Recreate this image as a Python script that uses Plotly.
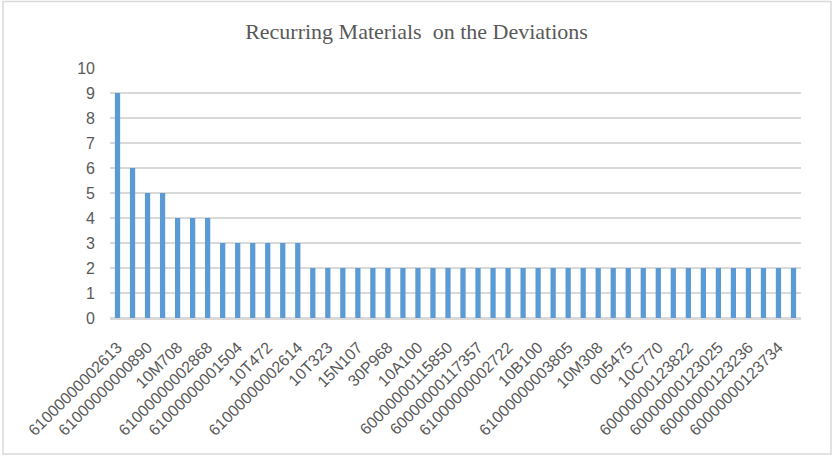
import plotly.graph_objects as go

# Bar counts (46 materials, sorted descending)
counts = [9, 6, 5, 5, 4, 4, 4, 3, 3, 3, 3, 3, 3,
          2, 2, 2, 2, 2, 2, 2, 2, 2, 2, 2, 2, 2, 2, 2, 2, 2,
          2, 2, 2, 2, 2, 2, 2, 2, 2, 2, 2, 2, 2, 2, 2, 2]

# Visible tick labels (every other bar)
tick_labels = ["61000000002613", "61000000000890", "10M708", "61000000002868",
               "61000000001504", "10T472", "61000000002614", "10T323", "15N107",
               "30P968", "10A100", "60000000115850", "60000000117357",
               "61000000002722", "10B100", "61000000003805", "10M308", "005475",
               "10C770", "60000000123822", "60000000123025", "60000000123236",
               "60000000123734"]

positions = list(range(len(counts)))
tick_positions = positions[::2][:len(tick_labels)]

fig = go.Figure(go.Bar(x=positions, y=counts, marker_color="#5B9BD5",
                       marker_line_width=0, width=0.35))

L, R, T, B = 110, 32, 68, 138
W, H = 833, 456
pw, ph = W - L - R, H - T - B

fig.update_layout(
    width=W, height=H,
    margin=dict(l=L, r=R, t=T, b=B),
    paper_bgcolor="white", plot_bgcolor="white",
    title=dict(text="Recurring Materials \u00a0on the Deviations",
               x=0.5, xref="container", xanchor="center",
               y=1 - 31 / H, yref="container", yanchor="middle",
               font=dict(family="Liberation Serif", size=22, color="#595959")),
    font=dict(family="Liberation Sans", size=16, color="#595959"),
    showlegend=False,
    xaxis=dict(range=[-0.5, len(counts) - 0.5], tickmode="array",
               tickvals=tick_positions, ticktext=tick_labels, tickangle=-45,
               showgrid=False, showline=True, linecolor="#D9D9D9", linewidth=1.5,
               ticks="", ticklabelstandoff=12, automargin=False,
               tickfont=dict(family="Liberation Sans", size=16, color="#595959")),
    yaxis=dict(range=[0, 10], dtick=1, showgrid=True, gridcolor="#D9D9D9",
               gridwidth=1.5, zeroline=True, zerolinecolor="#D9D9D9",
               zerolinewidth=1.5, ticks="", ticklabelstandoff=14, automargin=False,
               tickfont=dict(family="Liberation Sans", size=16, color="#595959")),
    shapes=[dict(type="rect", xref="paper", yref="paper",
                 x0=(3 - L) / pw, x1=(W - 2 - L) / pw,
                 y0=-(H - 2 - (T + ph)) / ph, y1=(T + ph - 1.5) / ph,
                 line=dict(color="#D9D9D9", width=1.5), layer="below")],
)

fig.write_html("out.html", config={"displayModeBar": False},
               post_script="document.body.style.margin='0';document.body.style.overflow='hidden';")
